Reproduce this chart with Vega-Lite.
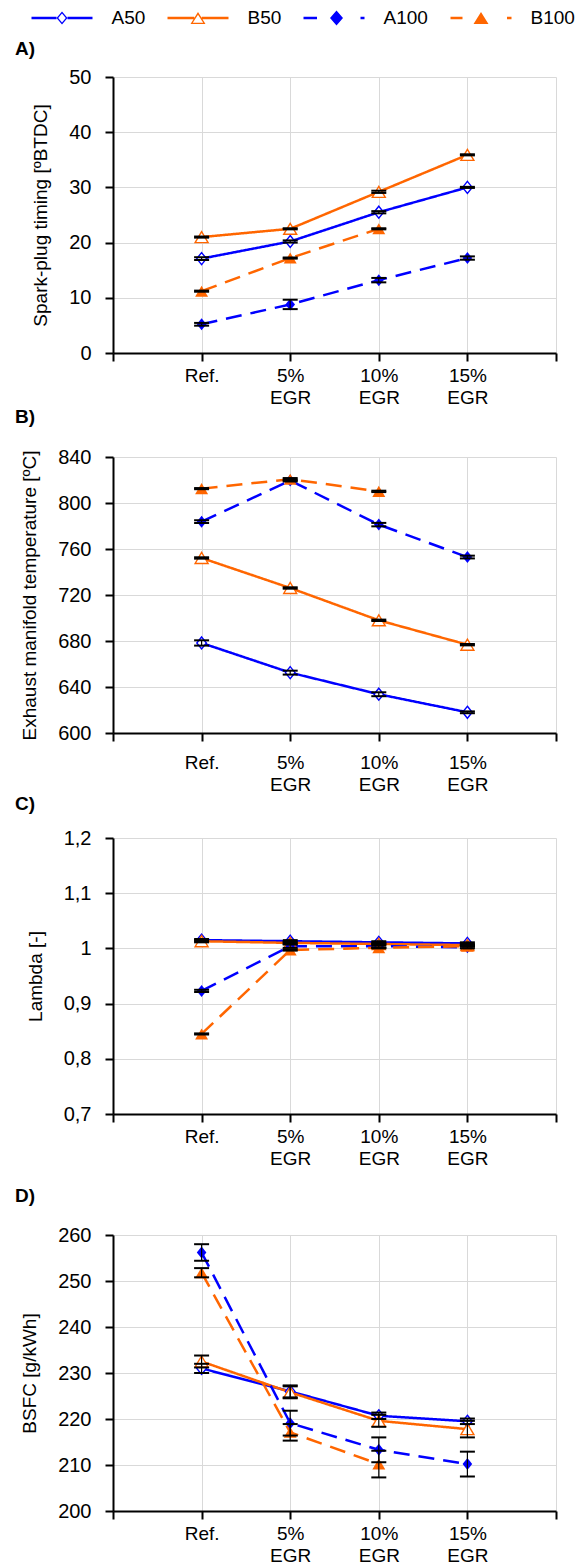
{
  "$schema": "https://vega.github.io/schema/vega-lite/v6.json",
  "padding": {"left": 15, "top": 8, "right": 0, "bottom": 0},
  "config": {
    "font": "Liberation Sans",
    "view": {"stroke": null},
    "axis": {
      "domainColor": "#000000", "domainWidth": 2,
      "tickColor": "#000000", "tickWidth": 2,
      "gridColor": "#d9d9d9", "gridWidth": 1,
      "labelColor": "#000000", "titleColor": "#000000",
      "labelFont": "Liberation Sans", "titleFont": "Liberation Sans",
      "labelFontSize": 20, "titleFontSize": 19, "titleFontWeight": "normal"
    },
    "title": {"font": "Liberation Sans", "fontSize": 19, "fontWeight": "bold", "color": "#000000", "anchor": "start", "frame": "group"}
  },
  "data": {"values": [
    {"p": "A", "s": "A50", "egr": 0, "v": 17.1, "lo": 16.85, "hi": 17.35},
    {"p": "A", "s": "A50", "egr": 5, "v": 20.2, "lo": 20.0, "hi": 20.4},
    {"p": "A", "s": "A50", "egr": 10, "v": 25.5, "lo": 25.3, "hi": 25.7},
    {"p": "A", "s": "A50", "egr": 15, "v": 30.0, "lo": 29.9, "hi": 30.1},
    {"p": "A", "s": "B50", "egr": 0, "v": 21.0, "lo": 20.9, "hi": 21.1},
    {"p": "A", "s": "B50", "egr": 5, "v": 22.5, "lo": 22.4, "hi": 22.6},
    {"p": "A", "s": "B50", "egr": 10, "v": 29.2, "lo": 29.0, "hi": 29.4},
    {"p": "A", "s": "B50", "egr": 15, "v": 35.9, "lo": 35.8, "hi": 36.0},
    {"p": "A", "s": "A100", "egr": 0, "v": 5.2, "lo": 4.95, "hi": 5.45},
    {"p": "A", "s": "A100", "egr": 5, "v": 8.8, "lo": 7.95, "hi": 9.65},
    {"p": "A", "s": "A100", "egr": 10, "v": 13.2, "lo": 12.8, "hi": 13.6},
    {"p": "A", "s": "A100", "egr": 15, "v": 17.2, "lo": 16.9, "hi": 17.5},
    {"p": "A", "s": "B100", "egr": 0, "v": 11.2, "lo": 11.1, "hi": 11.3},
    {"p": "A", "s": "B100", "egr": 5, "v": 17.2, "lo": 17.1, "hi": 17.3},
    {"p": "A", "s": "B100", "egr": 10, "v": 22.5, "lo": 22.4, "hi": 22.6},

    {"p": "B", "s": "A50", "egr": 0, "v": 678.3, "lo": 676.0, "hi": 680.6},
    {"p": "B", "s": "A50", "egr": 5, "v": 652.5, "lo": 650.8, "hi": 654.2},
    {"p": "B", "s": "A50", "egr": 10, "v": 633.7, "lo": 632.0, "hi": 635.4},
    {"p": "B", "s": "A50", "egr": 15, "v": 618.0, "lo": 617.2, "hi": 618.8},
    {"p": "B", "s": "B50", "egr": 0, "v": 752.2, "lo": 751.6, "hi": 752.8},
    {"p": "B", "s": "B50", "egr": 5, "v": 726.1, "lo": 725.5, "hi": 726.7},
    {"p": "B", "s": "B50", "egr": 10, "v": 698.0, "lo": 697.4, "hi": 698.6},
    {"p": "B", "s": "B50", "egr": 15, "v": 676.8, "lo": 676.2, "hi": 677.4},
    {"p": "B", "s": "A100", "egr": 0, "v": 783.8, "lo": 782.6, "hi": 785.0},
    {"p": "B", "s": "A100", "egr": 5, "v": 819.5, "lo": 818.7, "hi": 820.3},
    {"p": "B", "s": "A100", "egr": 10, "v": 781.2, "lo": 779.7, "hi": 782.7},
    {"p": "B", "s": "A100", "egr": 15, "v": 753.0, "lo": 751.8, "hi": 754.2},
    {"p": "B", "s": "B100", "egr": 0, "v": 812.5, "lo": 812.0, "hi": 813.0},
    {"p": "B", "s": "B100", "egr": 5, "v": 820.7, "lo": 819.7, "hi": 821.7},
    {"p": "B", "s": "B100", "egr": 10, "v": 810.1, "lo": 809.5, "hi": 810.7},

    {"p": "C", "s": "A50", "egr": 0, "v": 1.015, "lo": 1.013, "hi": 1.017},
    {"p": "C", "s": "A50", "egr": 5, "v": 1.013, "lo": 1.011, "hi": 1.015},
    {"p": "C", "s": "A50", "egr": 10, "v": 1.011, "lo": 1.009, "hi": 1.013},
    {"p": "C", "s": "A50", "egr": 15, "v": 1.009, "lo": 1.007, "hi": 1.011},
    {"p": "C", "s": "B50", "egr": 0, "v": 1.013, "lo": 1.011, "hi": 1.015},
    {"p": "C", "s": "B50", "egr": 5, "v": 1.010, "lo": 1.008, "hi": 1.012},
    {"p": "C", "s": "B50", "egr": 10, "v": 1.008, "lo": 1.006, "hi": 1.010},
    {"p": "C", "s": "B50", "egr": 15, "v": 1.006, "lo": 1.004, "hi": 1.008},
    {"p": "C", "s": "A100", "egr": 0, "v": 0.923, "lo": 0.921, "hi": 0.925},
    {"p": "C", "s": "A100", "egr": 5, "v": 1.004, "lo": 1.001, "hi": 1.007},
    {"p": "C", "s": "A100", "egr": 10, "v": 1.004, "lo": 1.001, "hi": 1.007},
    {"p": "C", "s": "A100", "egr": 15, "v": 1.002, "lo": 1.000, "hi": 1.004},
    {"p": "C", "s": "B100", "egr": 0, "v": 0.845, "lo": 0.844, "hi": 0.846},
    {"p": "C", "s": "B100", "egr": 5, "v": 0.997, "lo": 0.996, "hi": 0.998},
    {"p": "C", "s": "B100", "egr": 10, "v": 1.001, "lo": 1.000, "hi": 1.002},
    {"p": "C", "s": "B100", "egr": 15, "v": 1.004, "lo": 1.003, "hi": 1.005},

    {"p": "D", "s": "A50", "egr": 0, "v": 231.0, "lo": 230.0, "hi": 232.0},
    {"p": "D", "s": "A50", "egr": 5, "v": 226.0, "lo": 224.7, "hi": 227.3},
    {"p": "D", "s": "A50", "egr": 10, "v": 220.7, "lo": 220.0, "hi": 221.4},
    {"p": "D", "s": "A50", "egr": 15, "v": 219.5, "lo": 218.9, "hi": 220.1},
    {"p": "D", "s": "B50", "egr": 0, "v": 232.5, "lo": 231.2, "hi": 233.8},
    {"p": "D", "s": "B50", "egr": 5, "v": 225.8, "lo": 224.5, "hi": 227.1},
    {"p": "D", "s": "B50", "egr": 10, "v": 219.6, "lo": 218.3, "hi": 220.9},
    {"p": "D", "s": "B50", "egr": 15, "v": 217.8, "lo": 216.0, "hi": 219.6},
    {"p": "D", "s": "A100", "egr": 0, "v": 256.2, "lo": 254.4, "hi": 258.0},
    {"p": "D", "s": "A100", "egr": 5, "v": 219.1, "lo": 216.4, "hi": 221.8},
    {"p": "D", "s": "A100", "egr": 10, "v": 213.3, "lo": 210.6, "hi": 216.0},
    {"p": "D", "s": "A100", "egr": 15, "v": 210.2, "lo": 207.5, "hi": 212.9},
    {"p": "D", "s": "B100", "egr": 0, "v": 251.8, "lo": 250.8, "hi": 252.8},
    {"p": "D", "s": "B100", "egr": 5, "v": 217.1, "lo": 215.3, "hi": 218.9},
    {"p": "D", "s": "B100", "egr": 10, "v": 210.2, "lo": 207.3, "hi": 213.1}
  ]},
  "spacing": 1,
  "vconcat": [
    {
      "title": {"text": "A)", "dx": -98, "offset": 8},
      "width": 443, "height": 276,
      "transform": [{"filter": "datum.p == 'A'"}],
      "encoding": {
        "x": {"field": "egr", "type": "quantitative", "scale": {"domain": [-5, 20], "nice": false},
          "axis": {"title": null, "values": [-5, 0, 5, 10, 15, 20], "tickSize": 8, "labelFontSize": 19, "labelLineHeight": 22, "labelPadding": 5, "labelFlush": false, "labelOverlap": false,
            "labelExpr": "datum.value == 0 ? 'Ref.' : (datum.value > 0 && datum.value < 20) ? [datum.value + '%', 'EGR'] : ''"}}
      },
      "layer": [
        {"mark": {"type": "line", "strokeWidth": 2.5},
         "encoding": {
           "y": {"field": "v", "type": "quantitative", "scale": {"domain": [0, 50], "nice": false},
             "axis": {"title": "Spark-plug timing [ºBTDC]", "titlePadding": 18, "labelPadding": 14, "values": [0, 5, 10, 15, 20, 25, 30, 35, 40, 45, 50],
               "tickSize": {"condition": {"test": "datum.value % 10 != 0", "value": 4}, "value": 8},
               "gridOpacity": {"condition": {"test": "datum.value % 10 != 0", "value": 0}, "value": 1},
               "labelExpr": "datum.value % 10 == 0 ? datum.label : ''"}},
           "color": {"field": "s", "type": "nominal", "scale": {"domain": ["A50", "B50", "A100", "B100"], "range": ["#0000ff", "#ff6600", "#0000ff", "#ff6600"]},
             "legend": {"orient": "none", "legendX": -81.5, "legendY": -69, "direction": "horizontal", "title": null, "symbolSize": 400, "symbolStrokeWidth": 0, "symbolOpacity": 1, "labelFontSize": 19, "labelOffset": 60, "columnPadding": 22, "labelColor": "#000000", "labelFont": "Liberation Sans",
               "encode": {"symbols": {"update": {
                 "shape": {"signal": "datum.value === 'A50' ? 'M-1,-0.125L1.5,-0.125L1.5,0.125L-1,0.125M2.6,-0.125L5.1,-0.125L5.1,0.125L2.6,0.125M2.05,-0.65L2.6,0L2.05,0.65L1.5,0M2.05,-0.45L1.67,0L2.05,0.45L2.43,0Z' : datum.value === 'B50' ? 'M-1,-0.125L1.675,-0.125L1.675,0.125L-1,0.125M2.425,-0.125L5.1,-0.125L5.1,0.125L2.425,0.125M2.05,-0.6L2.8,0.6L1.3,0.6M2.05,-0.32L1.53,0.47L2.57,0.47Z' : datum.value === 'A100' ? 'M-1,-0.125L0.35,-0.125L0.35,0.125L-1,0.125M2.3,-0.75L2.95,0L2.3,0.75L1.65,0M4.7,-0.125L5.1,-0.125L5.1,0.125L4.7,0.125Z' : 'M-1,-0.125L0.2,-0.125L0.2,0.125L-1,0.125M2.05,-0.6L2.8,0.6L1.3,0.6M4.65,-0.125L5.1,-0.125L5.1,0.125L4.65,0.125Z'"},
                 "fill": {"signal": "(datum.value === 'A50' || datum.value === 'A100') ? '#0000ff' : '#ff6600'"},
                 "fillOpacity": {"value": 1},
                 "stroke": {"value": "transparent"},
                 "strokeWidth": {"value": 0},
                 "opacity": {"value": 1}
               }}}}},
           "strokeDash": {"field": "s", "type": "nominal", "scale": {"domain": ["A50", "B50", "A100", "B100"], "range": [[1, 0], [1, 0], [16, 9], [16, 9]]}, "legend": null}
         }},
        {"transform": [{"filter": "datum.s == 'A50'"}],
         "mark": {"type": "point", "shape": "M0,-1L0.8,0L0,1L-0.8,0Z", "filled": false, "fill": "#ffffff", "stroke": "#0000ff", "size": 144, "strokeWidth": 1.4, "opacity": 1, "fillOpacity": 1},
         "encoding": {"y": {"field": "v", "type": "quantitative"}}},
        {"transform": [{"filter": "datum.s == 'B50'"}],
         "mark": {"type": "point", "shape": "M0,-0.92L1.08,0.92L-1.08,0.92Z", "filled": false, "fill": "#ffffff", "stroke": "#ff6600", "size": 144, "strokeWidth": 1.4, "opacity": 1, "fillOpacity": 1},
         "encoding": {"y": {"field": "v", "type": "quantitative"}}},
        {"transform": [{"filter": "datum.s == 'A100'"}],
         "mark": {"type": "point", "shape": "M0,-1L0.8,0L0,1L-0.8,0Z", "filled": true, "color": "#0000ff", "size": 144, "opacity": 1},
         "encoding": {"y": {"field": "v", "type": "quantitative"}}},
        {"transform": [{"filter": "datum.s == 'B100'"}],
         "mark": {"type": "point", "shape": "M0,-0.92L1.08,0.92L-1.08,0.92Z", "filled": true, "color": "#ff6600", "size": 144, "opacity": 1},
         "encoding": {"y": {"field": "v", "type": "quantitative"}}},
        {"mark": {"type": "rule", "color": "#000000", "strokeWidth": 1.2},
         "encoding": {"y": {"field": "lo", "type": "quantitative", "title": "Spark-plug timing [ºBTDC]"}, "y2": {"field": "hi"}}},
        {"mark": {"type": "tick", "orient": "horizontal", "color": "#000000", "size": 15, "thickness": 2, "opacity": 1},
         "encoding": {"y": {"field": "lo", "type": "quantitative", "title": "Spark-plug timing [ºBTDC]"}}},
        {"mark": {"type": "tick", "orient": "horizontal", "color": "#000000", "size": 15, "thickness": 2, "opacity": 1},
         "encoding": {"y": {"field": "hi", "type": "quantitative", "title": "Spark-plug timing [ºBTDC]"}}}
      ]
    },
    {
      "title": {"text": "B)", "dx": -98, "offset": 20},
      "width": 443, "height": 276,
      "transform": [{"filter": "datum.p == 'B'"}],
      "encoding": {
        "x": {"field": "egr", "type": "quantitative", "scale": {"domain": [-5, 20], "nice": false},
          "axis": {"title": null, "values": [-5, 0, 5, 10, 15, 20], "tickSize": 8, "labelFontSize": 19, "labelLineHeight": 22, "labelPadding": 12, "labelFlush": false, "labelOverlap": false,
            "labelExpr": "datum.value == 0 ? 'Ref.' : (datum.value > 0 && datum.value < 20) ? [datum.value + '%', 'EGR'] : ''"}}
      },
      "layer": [
        {"mark": {"type": "line", "strokeWidth": 2.5},
         "encoding": {
           "y": {"field": "v", "type": "quantitative", "scale": {"domain": [600, 840], "nice": false},
             "axis": {"title": "Exhaust manifold temperature [ºC]", "titlePadding": 18, "labelPadding": 14, "values": [600, 620, 640, 660, 680, 700, 720, 740, 760, 780, 800, 820, 840],
               "tickSize": {"condition": {"test": "datum.value % 40 != 0", "value": 4}, "value": 8},
               "gridOpacity": {"condition": {"test": "datum.value % 40 != 0", "value": 0}, "value": 1},
               "labelExpr": "datum.value % 40 == 0 ? datum.label : ''"}},
           "color": {"field": "s", "type": "nominal"},
           "strokeDash": {"field": "s", "type": "nominal", "scale": {"domain": ["A50", "B50", "A100", "B100"], "range": [[1, 0], [1, 0], [16, 9], [16, 9]]}, "legend": null}
         }},
        {"transform": [{"filter": "datum.s == 'A50'"}],
         "mark": {"type": "point", "shape": "M0,-1L0.8,0L0,1L-0.8,0Z", "filled": false, "fill": "#ffffff", "stroke": "#0000ff", "size": 144, "strokeWidth": 1.4, "opacity": 1, "fillOpacity": 1},
         "encoding": {"y": {"field": "v", "type": "quantitative"}}},
        {"transform": [{"filter": "datum.s == 'B50'"}],
         "mark": {"type": "point", "shape": "M0,-0.92L1.08,0.92L-1.08,0.92Z", "filled": false, "fill": "#ffffff", "stroke": "#ff6600", "size": 144, "strokeWidth": 1.4, "opacity": 1, "fillOpacity": 1},
         "encoding": {"y": {"field": "v", "type": "quantitative"}}},
        {"transform": [{"filter": "datum.s == 'A100'"}],
         "mark": {"type": "point", "shape": "M0,-1L0.8,0L0,1L-0.8,0Z", "filled": true, "color": "#0000ff", "size": 144, "opacity": 1},
         "encoding": {"y": {"field": "v", "type": "quantitative"}}},
        {"transform": [{"filter": "datum.s == 'B100'"}],
         "mark": {"type": "point", "shape": "M0,-0.92L1.08,0.92L-1.08,0.92Z", "filled": true, "color": "#ff6600", "size": 144, "opacity": 1},
         "encoding": {"y": {"field": "v", "type": "quantitative"}}},
        {"mark": {"type": "rule", "color": "#000000", "strokeWidth": 1.2},
         "encoding": {"y": {"field": "lo", "type": "quantitative", "title": "Exhaust manifold temperature [ºC]"}, "y2": {"field": "hi"}}},
        {"mark": {"type": "tick", "orient": "horizontal", "color": "#000000", "size": 15, "thickness": 2, "opacity": 1},
         "encoding": {"y": {"field": "lo", "type": "quantitative", "title": "Exhaust manifold temperature [ºC]"}}},
        {"mark": {"type": "tick", "orient": "horizontal", "color": "#000000", "size": 15, "thickness": 2, "opacity": 1},
         "encoding": {"y": {"field": "hi", "type": "quantitative", "title": "Exhaust manifold temperature [ºC]"}}}
      ]
    },
    {
      "title": {"text": "C)", "dx": -98, "offset": 14},
      "width": 443, "height": 276,
      "transform": [{"filter": "datum.p == 'C'"}],
      "encoding": {
        "x": {"field": "egr", "type": "quantitative", "scale": {"domain": [-5, 20], "nice": false},
          "axis": {"title": " ", "titleFontSize": 15, "titlePadding": 3, "values": [-5, 0, 5, 10, 15, 20], "tickSize": 8, "labelFontSize": 19, "labelLineHeight": 22, "labelPadding": 5, "labelFlush": false, "labelOverlap": false,
            "labelExpr": "datum.value == 0 ? 'Ref.' : (datum.value > 0 && datum.value < 20) ? [datum.value + '%', 'EGR'] : ''"}}
      },
      "layer": [
        {"mark": {"type": "line", "strokeWidth": 2.5},
         "encoding": {
           "y": {"field": "v", "type": "quantitative", "scale": {"domain": [0.7, 1.2], "nice": false},
             "axis": {"title": "Lambda [-]", "titlePadding": 18, "labelPadding": 14, "values": [0.7, 0.75, 0.8, 0.85, 0.9, 0.95, 1.0, 1.05, 1.1, 1.15, 1.2],
               "tickSize": {"condition": {"test": "round(datum.value * 100) % 10 != 0", "value": 4}, "value": 8},
               "gridOpacity": {"condition": {"test": "round(datum.value * 100) % 10 != 0", "value": 0}, "value": 1},
               "labelExpr": "round(datum.value * 100) % 10 == 0 ? replace(format(datum.value, '.1~f'), '.', ',') : ''"}},
           "color": {"field": "s", "type": "nominal"},
           "strokeDash": {"field": "s", "type": "nominal", "scale": {"domain": ["A50", "B50", "A100", "B100"], "range": [[1, 0], [1, 0], [16, 9], [16, 9]]}, "legend": null}
         }},
        {"transform": [{"filter": "datum.s == 'A50'"}],
         "mark": {"type": "point", "shape": "M0,-1L0.8,0L0,1L-0.8,0Z", "filled": false, "fill": "#ffffff", "stroke": "#0000ff", "size": 144, "strokeWidth": 1.4, "opacity": 1, "fillOpacity": 1},
         "encoding": {"y": {"field": "v", "type": "quantitative"}}},
        {"transform": [{"filter": "datum.s == 'B50'"}],
         "mark": {"type": "point", "shape": "M0,-0.92L1.08,0.92L-1.08,0.92Z", "filled": false, "fill": "#ffffff", "stroke": "#ff6600", "size": 144, "strokeWidth": 1.4, "opacity": 1, "fillOpacity": 1},
         "encoding": {"y": {"field": "v", "type": "quantitative"}}},
        {"transform": [{"filter": "datum.s == 'A100'"}],
         "mark": {"type": "point", "shape": "M0,-1L0.8,0L0,1L-0.8,0Z", "filled": true, "color": "#0000ff", "size": 144, "opacity": 1},
         "encoding": {"y": {"field": "v", "type": "quantitative"}}},
        {"transform": [{"filter": "datum.s == 'B100'"}],
         "mark": {"type": "point", "shape": "M0,-0.92L1.08,0.92L-1.08,0.92Z", "filled": true, "color": "#ff6600", "size": 144, "opacity": 1},
         "encoding": {"y": {"field": "v", "type": "quantitative"}}},
        {"mark": {"type": "rule", "color": "#000000", "strokeWidth": 1.2},
         "encoding": {"y": {"field": "lo", "type": "quantitative", "title": "Lambda [-]"}, "y2": {"field": "hi"}}},
        {"mark": {"type": "tick", "orient": "horizontal", "color": "#000000", "size": 15, "thickness": 2, "opacity": 1},
         "encoding": {"y": {"field": "lo", "type": "quantitative", "title": "Lambda [-]"}}},
        {"mark": {"type": "tick", "orient": "horizontal", "color": "#000000", "size": 15, "thickness": 2, "opacity": 1},
         "encoding": {"y": {"field": "hi", "type": "quantitative", "title": "Lambda [-]"}}}
      ]
    },
    {
      "title": {"text": "D)", "dx": -98, "offset": 19},
      "width": 443, "height": 276,
      "transform": [{"filter": "datum.p == 'D'"}],
      "encoding": {
        "x": {"field": "egr", "type": "quantitative", "scale": {"domain": [-5, 20], "nice": false},
          "axis": {"title": null, "values": [-5, 0, 5, 10, 15, 20], "tickSize": 8, "labelFontSize": 19, "labelLineHeight": 22, "labelPadding": 5, "labelFlush": false, "labelOverlap": false,
            "labelExpr": "datum.value == 0 ? 'Ref.' : (datum.value > 0 && datum.value < 20) ? [datum.value + '%', 'EGR'] : ''"}}
      },
      "layer": [
        {"mark": {"type": "line", "strokeWidth": 2.5},
         "encoding": {
           "y": {"field": "v", "type": "quantitative", "scale": {"domain": [200, 260], "nice": false},
             "axis": {"title": "BSFC [g/kWh]", "titlePadding": 18, "labelPadding": 14, "values": [200, 205, 210, 215, 220, 225, 230, 235, 240, 245, 250, 255, 260],
               "tickSize": {"condition": {"test": "datum.value % 10 != 0", "value": 4}, "value": 8},
               "gridOpacity": {"condition": {"test": "datum.value % 10 != 0", "value": 0}, "value": 1},
               "labelExpr": "datum.value % 10 == 0 ? datum.label : ''"}},
           "color": {"field": "s", "type": "nominal"},
           "strokeDash": {"field": "s", "type": "nominal", "scale": {"domain": ["A50", "B50", "A100", "B100"], "range": [[1, 0], [1, 0], [16, 9], [16, 9]]}, "legend": null}
         }},
        {"transform": [{"filter": "datum.s == 'A50'"}],
         "mark": {"type": "point", "shape": "M0,-1L0.8,0L0,1L-0.8,0Z", "filled": false, "fill": "#ffffff", "stroke": "#0000ff", "size": 144, "strokeWidth": 1.4, "opacity": 1, "fillOpacity": 1},
         "encoding": {"y": {"field": "v", "type": "quantitative"}}},
        {"transform": [{"filter": "datum.s == 'B50'"}],
         "mark": {"type": "point", "shape": "M0,-0.92L1.08,0.92L-1.08,0.92Z", "filled": false, "fill": "#ffffff", "stroke": "#ff6600", "size": 144, "strokeWidth": 1.4, "opacity": 1, "fillOpacity": 1},
         "encoding": {"y": {"field": "v", "type": "quantitative"}}},
        {"transform": [{"filter": "datum.s == 'A100'"}],
         "mark": {"type": "point", "shape": "M0,-1L0.8,0L0,1L-0.8,0Z", "filled": true, "color": "#0000ff", "size": 144, "opacity": 1},
         "encoding": {"y": {"field": "v", "type": "quantitative"}}},
        {"transform": [{"filter": "datum.s == 'B100'"}],
         "mark": {"type": "point", "shape": "M0,-0.92L1.08,0.92L-1.08,0.92Z", "filled": true, "color": "#ff6600", "size": 144, "opacity": 1},
         "encoding": {"y": {"field": "v", "type": "quantitative"}}},
        {"mark": {"type": "rule", "color": "#000000", "strokeWidth": 1.2},
         "encoding": {"y": {"field": "lo", "type": "quantitative", "title": "BSFC [g/kWh]"}, "y2": {"field": "hi"}}},
        {"mark": {"type": "tick", "orient": "horizontal", "color": "#000000", "size": 15, "thickness": 2, "opacity": 1},
         "encoding": {"y": {"field": "lo", "type": "quantitative", "title": "BSFC [g/kWh]"}}},
        {"mark": {"type": "tick", "orient": "horizontal", "color": "#000000", "size": 15, "thickness": 2, "opacity": 1},
         "encoding": {"y": {"field": "hi", "type": "quantitative", "title": "BSFC [g/kWh]"}}}
      ]
    }
  ]
}
